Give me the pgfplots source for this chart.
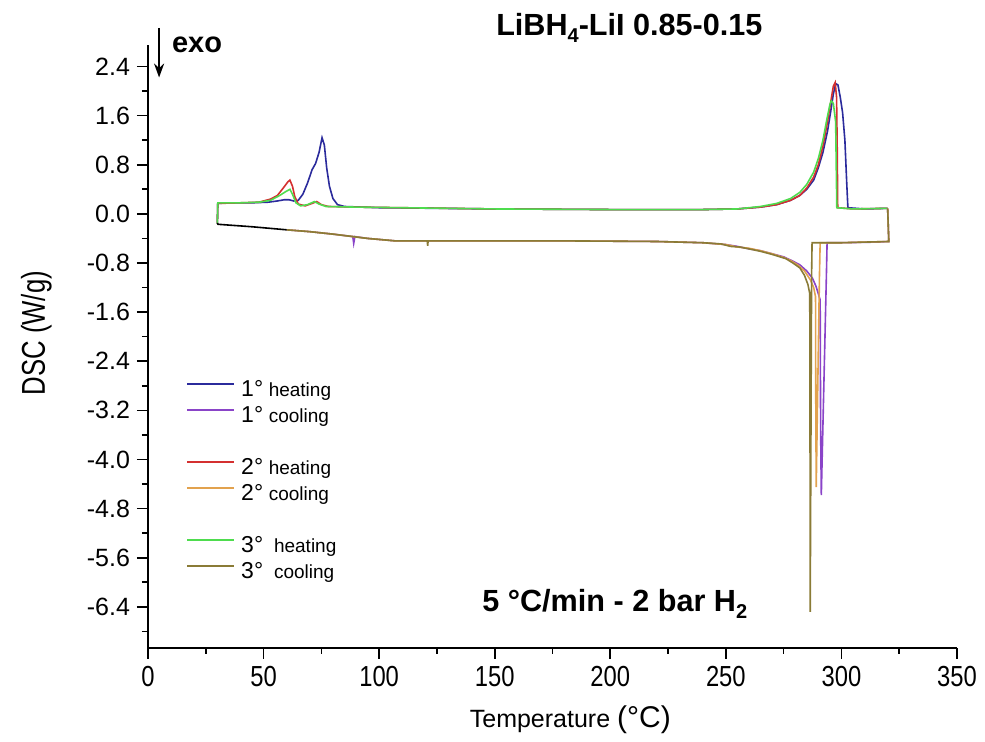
\documentclass[border=0pt]{standalone}
\usepackage{pgfplots}
\pgfplotsset{compat=1.18}
\usepackage{fontspec}
\setmainfont{Liberation Sans}
\usepackage{graphicx}
\usetikzlibrary{arrows.meta}
\definecolor{cHa}{HTML}{2B2B9C}
\definecolor{cCa}{HTML}{8A44C8}
\definecolor{cHb}{HTML}{D43030}
\definecolor{cCb}{HTML}{E2A24E}
\definecolor{cHc}{HTML}{4EDC4E}
\definecolor{cCc}{HTML}{8A7B36}
\newcommand\sx[1]{\scalebox{0.82}[1]{#1}}
\newcommand\legtxt[2]{\hspace*{3pt}{\fontsize{11.5}{12}\selectfont #1°}\ {\fontsize{9.5}{11}\selectfont #2}}
\begin{document}
\begin{tikzpicture}
\begin{axis}[name=ax, scale only axis, width=404.5pt, height=301.5pt,
  xmin=0, xmax=350, ymin=-7.07, ymax=2.75,
  axis x line*=bottom, axis y line*=left,
  axis line style={-, line width=0.8pt, black},
  tick align=outside, major tick length=5.5pt, minor tick length=3pt,
  every tick/.style={black, line width=0.8pt},
  xtick={0,50,100,150,200,250,300,350},
  xticklabels={\sx{0},\sx{50},\sx{100},\sx{150},\sx{200},\sx{250},\sx{300},\sx{350}},
  minor xtick={25,75,125,175,225,275,325},
  ytick={-6.4,-5.6,-4.8,-4.0,-3.2,-2.4,-1.6,-0.8,0,0.8,1.6,2.4},
  yticklabels={-6.4,-5.6,-4.8,-4.0,-3.2,-2.4,-1.6,-0.8,0.0,0.8,1.6,2.4},
  minor ytick={-6.8,-6.0,-5.2,-4.4,-3.6,-2.8,-2.0,-1.2,-0.4,0.4,1.2,2.0},
  xticklabel style={font=\fontsize{14.5}{16}\selectfont},
  yticklabel style={font=\fontsize{12.5}{14}\selectfont},
  xlabel={{\fontsize{12.5}{14}\selectfont Temperature }{\fontsize{15}{16}\selectfont (°C)}},
  xlabel style={at={(axis description cs:0.522,-0.119)}, anchor=center},
  ylabel={\scalebox{0.78}[1]{\fontsize{16.5}{18}\selectfont DSC (W/g)}},
  ylabel style={at={(axis description cs:-0.138,0.522)}, anchor=center},
  clip=false,
  every axis plot/.append style={line width=0.8pt},
  legend image code/.code={\draw[#1] (0pt,3pt) -- (23.5pt,3pt);},
  legend style={at={(rel axis cs:0.047,0.445)}, anchor=north west, draw=none, fill=none,
    inner sep=0pt, row sep=3pt, nodes={inner sep=0pt, text height=8pt, text depth=2pt}},
  legend cell align=left,
]
% 1st heating
\addplot[cHa, forget plot] coordinates {
(30,-0.16) (30.2,0.17) (35,0.18) (45,0.18) (52,0.19) (56,0.21) (59,0.23) (61,0.23) (63,0.21) (65,0.22)
(67,0.32) (69,0.5) (71,0.72) (72.5,0.82) (74,1.0) (75.3,1.24) (76.3,1.12) (77.3,0.75) (78.5,0.45)
(80,0.25) (82,0.15) (85,0.12) (100,0.1) (150,0.08) (200,0.07) (240,0.07) (255,0.08) (265,0.11)
(272,0.15) (278,0.22) (282,0.3) (285,0.4) (288,0.55) (290,0.75) (292,1.0) (294,1.35) (295.5,1.7)
(296.5,1.95) (297.5,2.12) (298.5,2.1) (299.5,1.9) (300.5,1.65) (301.5,1.2) (302.3,0.5) (302.8,0.1)
(310,0.08) (320,0.09)};
% 2nd heating
\addplot[cHb, forget plot] coordinates {
(30,-0.16) (30.2,0.17) (40,0.18) (48,0.19) (53,0.24) (56,0.3) (58.5,0.42) (60.5,0.52) (61.4,0.55)
(62.5,0.45) (63.5,0.28) (65,0.16) (68,0.13) (71,0.17) (73,0.2) (75,0.15) (78,0.12) (90,0.11)
(150,0.08) (200,0.07) (240,0.07) (255,0.08) (265,0.11) (272,0.15) (278,0.22) (282,0.3) (285,0.42)
(288,0.6) (290,0.8) (292,1.1) (294,1.5) (295.5,1.85) (296.5,2.08) (297.3,2.14) (297.9,1.9)
(298.2,1.0) (298.4,0.1) (305,0.08) (320,0.09)};
% 3rd heating
\addplot[cHc, forget plot] coordinates {
(30,-0.16) (30.2,0.18) (40,0.18) (48,0.19) (53,0.22) (57,0.3) (59.5,0.36) (61.4,0.4) (62.5,0.32)
(64,0.18) (66,0.13) (69,0.15) (72,0.2) (74,0.16) (77,0.12) (90,0.11) (150,0.08) (200,0.07)
(240,0.07) (255,0.08) (265,0.12) (272,0.17) (278,0.25) (282,0.35) (285,0.48) (288,0.68) (290,0.9)
(292,1.2) (293.5,1.5) (295,1.78) (295.6,1.84) (296.5,1.8) (297.5,1.5) (298,0.1) (305,0.08) (320,0.09)};
% 1st cooling
\addplot[cCa, forget plot] coordinates {
(320,0.09) (320.5,-0.45) (315,-0.46) (300,-0.47) (293.8,-0.47) (293.5,-1.0) (291.3,-4.58) (291,-3.5)
(290.8,-1.4) (290,-1.3) (289,-1.18) (287.5,-1.05) (285,-0.93) (282,-0.83) (279,-0.77) (275,-0.7)
(270,-0.65) (265,-0.6) (260,-0.57) (255,-0.53) (250,-0.5) (240,-0.47) (220,-0.45) (180,-0.44)
(140,-0.44) (107,-0.44) (95,-0.4) (89.5,-0.37) (89,-0.48) (88.6,-0.37) (80,-0.33) (70,-0.29) (60,-0.26)};
% 2nd cooling
\addplot[cCb, forget plot] coordinates {
(320,0.09) (320.5,-0.45) (300,-0.47) (290.8,-0.47) (290.5,-1.0) (289.1,-4.45) (288.9,-3.0)
(288.8,-1.35) (288,-1.2) (286.5,-1.07) (284,-0.93) (281,-0.83) (278,-0.76) (275,-0.71) (270,-0.65)
(265,-0.6) (260,-0.56) (255,-0.54) (250,-0.5) (240,-0.47) (220,-0.45) (180,-0.44) (140,-0.44)
(107,-0.44) (95,-0.4) (80,-0.33) (70,-0.29) (60,-0.26)};
% 3rd cooling
\addplot[cCc, forget plot] coordinates {
(320,0.09) (320.5,-0.45) (300,-0.47) (287.3,-0.47) (287.1,-1.0) (286.5,-6.48) (286.4,-3.0)
(286.3,-1.3) (285.5,-1.15) (284,-1.0) (282,-0.88) (279,-0.8) (276,-0.73) (270,-0.66) (265,-0.61)
(260,-0.57) (256,-0.54) (252,-0.53) (248,-0.49) (240,-0.47) (220,-0.45) (180,-0.44) (140,-0.44)
(121.2,-0.44) (121,-0.52) (120.8,-0.44) (107,-0.44) (95,-0.4) (80,-0.33) (70,-0.29) (60,-0.26)};
% end of cooling
\addplot[black, forget plot] coordinates {(60,-0.26) (45,-0.21) (30.3,-0.17) (30,-0.15)};
% legend
\addlegendimage{cHa, line width=0.9pt}\addlegendentry{\legtxt{1}{heating}}
\addlegendimage{cCa, line width=0.9pt}\addlegendentry{\legtxt{1}{cooling}}
\addlegendimage{empty legend}\addlegendentry{}
\addlegendimage{cHb, line width=0.9pt}\addlegendentry{\legtxt{2}{heating}}
\addlegendimage{cCb, line width=0.9pt}\addlegendentry{\legtxt{2}{cooling}}
\addlegendimage{empty legend}\addlegendentry{}
\addlegendimage{cHc, line width=0.9pt}\addlegendentry{\legtxt{3}{\ heating}}
\addlegendimage{cCc, line width=0.9pt}\addlegendentry{\legtxt{3}{\ cooling}}
% annotations
\node[font=\bfseries\fontsize{15.3}{17}\selectfont] at (rel axis cs:0.595,1.028)
  {LiBH\raisebox{-0.45ex}{\fontsize{10}{10}\selectfont 4}-LiI 0.85-0.15};
\node[font=\bfseries\fontsize{15.3}{17}\selectfont] at (rel axis cs:0.577,0.073)
  {5 °C/min - 2 bar H\raisebox{-0.45ex}{\fontsize{10}{10}\selectfont 2}};
\node[font=\bfseries\fontsize{14.5}{16}\selectfont] at (rel axis cs:0.0606,1.0) {exo};
\draw[-{Stealth[length=7pt,width=5pt]}, line width=1.1pt] (axis cs:4.8,3.03) -- (axis cs:4.8,2.22);
\end{axis}
\pgfresetboundingbox
\path[use as bounding box] ([shift={(-74pt,-47pt)}]ax.south west) rectangle ++(492.5pt,371pt);
\end{tikzpicture}
\end{document}
